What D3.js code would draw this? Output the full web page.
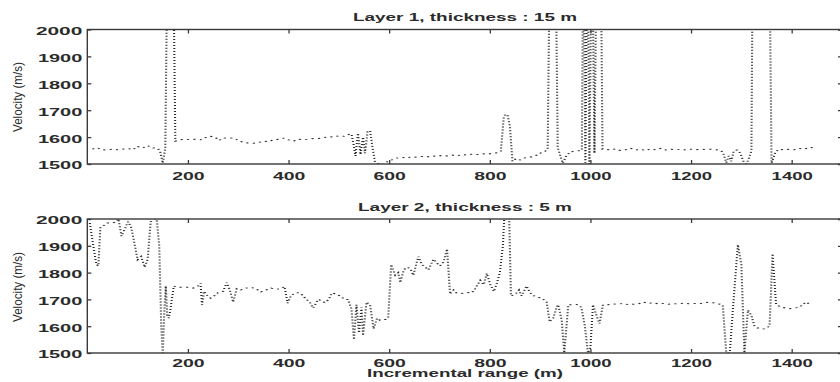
<!DOCTYPE html>
<html>
<head>
<meta charset="utf-8">
<script src="https://cdn.jsdelivr.net/npm/d3@7"></script>
<style>
  html, body { margin: 0; padding: 0; background: #ffffff; }
  svg { display: block; }
</style>
</head>
<body>
<svg id="chart" width="840" height="382"></svg>
<script>
// ---------------- data ----------------
const layer1X = [10,20,30,40,50,60,70,80,90,100,110,120,130,140,145,150,155,160,170,175,185,195,205,215,225,235,245,255,262,270,280,290,300,310,320,330,340,350,360,370,380,390,400,410,420,430,440,450,460,470,480,490,500,510,520,525,530,533,538,543,548,552,557,562,567,572,580,590,597,605,615,625,635,645,655,665,675,685,695,705,715,725,735,745,755,765,775,785,795,805,815,822,828,835,840,845,852,860,870,880,890,900,910,915,920,930,935,945,952,960,970,980,983,986,990,994,998,1003,1008,1013,1020,1024,1030,1040,1050,1060,1070,1080,1090,1100,1110,1120,1130,1140,1150,1160,1170,1180,1190,1200,1210,1220,1230,1240,1250,1260,1265,1270,1275,1280,1285,1292,1298,1305,1310,1315,1320,1323,1355,1360,1368,1375,1385,1395,1405,1415,1425,1435,1443];
const layer1V = [1555,1560,1553,1552,1555,1553,1555,1558,1553,1565,1560,1568,1560,1558,1545,1503,1560,2400,2400,1585,1590,1592,1590,1592,1590,1598,1603,1598,1588,1596,1597,1596,1588,1580,1578,1577,1580,1585,1583,1590,1592,1596,1590,1585,1592,1590,1592,1595,1595,1598,1602,1600,1605,1603,1610,1612,1565,1530,1615,1535,1600,1540,1620,1625,1560,1505,1500,1498,1510,1515,1522,1525,1522,1527,1525,1528,1526,1530,1528,1532,1530,1533,1530,1535,1533,1537,1535,1538,1536,1540,1542,1548,1680,1685,1640,1510,1520,1515,1523,1525,1530,1540,1548,1555,2400,2400,1560,1503,1530,1545,1548,1550,1550,2400,1505,2400,1500,2400,1540,2400,2400,1555,1555,1552,1556,1550,1553,1558,1552,1555,1550,1556,1553,1558,1552,1555,1553,1555,1552,1555,1553,1555,1554,1555,1553,1550,1535,1505,1530,1510,1550,1552,1540,1505,1500,1520,1550,2400,2400,1503,1545,1555,1552,1555,1553,1558,1555,1562,1560];

const layer2X = [5,12,18,22,26,32,40,50,58,62,68,75,81,87,93,100,107,114,120,126,133,138,143,147,150,153,156,159,162,165,168,172,180,190,200,210,220,225,228,232,238,245,252,260,270,277,284,290,297,305,315,325,335,345,355,365,375,385,392,398,405,415,423,433,443,449,459,466,472,480,486,495,505,511,518,525,530,535,540,545,548,555,562,569,576,582,592,598,604,612,618,622,629,635,642,648,658,665,672,678,688,695,701,708,715,721,728,734,744,754,764,771,781,788,794,801,808,814,820,826,830,838,842,851,858,863,873,880,890,903,913,919,926,933,936,943,948,956,962,970,975,982,989,995,1000,1005,1012,1018,1025,1035,1045,1055,1065,1075,1085,1095,1105,1115,1125,1135,1145,1155,1165,1175,1185,1195,1205,1215,1225,1237,1250,1263,1270,1277,1283,1293,1300,1306,1313,1320,1326,1336,1346,1356,1362,1369,1382,1395,1405,1415,1428,1438];
const layer2V = [1985,1900,1830,1825,1970,1975,1985,1985,1990,2000,1936,1965,1990,1970,1916,1848,1860,1820,1850,1990,2000,2000,1900,1600,1500,1650,1750,1640,1630,1660,1700,1750,1745,1745,1745,1742,1750,1760,1680,1730,1715,1705,1713,1725,1730,1763,1730,1690,1740,1735,1742,1745,1740,1728,1735,1742,1738,1740,1748,1686,1715,1725,1724,1705,1687,1668,1700,1695,1688,1700,1724,1720,1710,1700,1700,1665,1550,1680,1575,1670,1565,1690,1680,1590,1630,1622,1625,1630,1830,1790,1800,1763,1810,1820,1815,1790,1860,1830,1820,1810,1850,1835,1825,1840,1888,1720,1735,1724,1722,1726,1724,1740,1771,1755,1797,1755,1730,1760,1800,1900,2050,2050,1713,1720,1735,1713,1750,1725,1710,1705,1690,1616,1630,1672,1680,1620,1500,1680,1680,1682,1680,1670,1600,1500,1520,1680,1640,1610,1680,1680,1683,1682,1685,1680,1682,1683,1690,1685,1688,1683,1685,1682,1684,1683,1686,1684,1685,1683,1687,1690,1685,1680,1500,1500,1660,1904,1830,1500,1660,1640,1600,1590,1590,1600,1870,1680,1670,1665,1668,1670,1690,1680];

const xTicks = [200,400,600,800,1000,1200,1400];
const yTicks = [1500,1600,1700,1800,1900,2000];
const xDomain = [0,1500];
const yDomain = [1500,2000];
const titles = ["Layer 1, thickness : 15 m", "Layer 2, thickness : 5 m"];
const yLabel = "Velocity (m/s)";
const xLabel = "Incremental range (m)";

// ---------------- layout ----------------
const svg = d3.select("#chart");
const LEFT = 87.3, RIGHT = 842;
const SX = 2.2;              // horizontal stretch of the scanned original
const FONT = "'Liberation Sans', Arial, sans-serif";
const INK = "#2b2b2b";
const fmt = d3.format("d");

const panels = [
  { top: 29.5, bottom: 164, xs: layer1X, vs: layer1V, title: titles[0], titleX: 353, titleLen: 224, titleY: 21, pad: 8, labelY: 97 },
  { top: 219,  bottom: 353, xs: layer2X, vs: layer2V, title: titles[1], titleX: 358, titleLen: 214, titleY: 211, pad: 6, labelY: 287 }
];

const xScreen = d3.scaleLinear().domain(xDomain).range([LEFT, RIGHT]);
const xLocal  = d3.scaleLinear().domain(xDomain).range([LEFT / SX, RIGHT / SX]);

function stretchText(sel, perChar) {
  sel.attr("font-family", FONT).attr("font-size", 11).attr("font-weight", "bold")
     .attr("fill", INK)
     .attr("lengthAdjust", "spacingAndGlyphs")
     .attr("textLength", function() { const t = d3.select(this).text(); return t.length * perChar - (t.startsWith("1") ? 2 : 0); });
}

const defs = svg.append("defs");

panels.forEach((p, i) => {
  const y = d3.scaleLinear().domain(yDomain).range([p.bottom, p.top]);

  defs.append("clipPath").attr("id", "clip" + i)
    .append("rect").attr("x", LEFT).attr("y", p.top).attr("width", RIGHT - LEFT).attr("height", p.bottom - p.top);

  // data line (dotted, drawn in stretched space)
  const pts = p.xs.map((d, k) => [d, p.vs[k]]);
  const line = d3.line().x(d => xLocal(d[0])).y(d => y(d[1]));
  svg.append("g").attr("clip-path", `url(#clip${i})`)
    .append("g").attr("transform", `scale(${SX},1)`)
    .append("path").datum(pts)
      .attr("d", line)
      .attr("fill", "none")
      .attr("stroke", "#2a2a2a")
      .attr("stroke-width", 0.95)
      .attr("stroke-dasharray", "1,2");

  // axes
  const gB = svg.append("g").attr("transform", `translate(0,${p.bottom})`)
    .call(d3.axisBottom(xScreen).tickValues(xTicks).tickFormat(fmt).tickSizeInner(-4).tickSizeOuter(0).tickPadding(p.pad));
  const gT = svg.append("g").attr("transform", `translate(0,${p.top})`)
    .call(d3.axisTop(xScreen).tickValues(xTicks).tickSizeInner(-4).tickSizeOuter(0).tickFormat(""));
  const gL = svg.append("g").attr("transform", `translate(${LEFT},0)`)
    .call(d3.axisLeft(y).tickValues(yTicks).tickFormat(fmt).tickSizeInner(-4).tickSizeOuter(0).tickPadding(5));
  const gR = svg.append("g").attr("transform", `translate(${RIGHT},0)`)
    .call(d3.axisRight(y).tickValues(yTicks).tickSizeInner(-4).tickSizeOuter(0).tickFormat(""));

  [gB, gT, gL, gR].forEach(g => {
    g.select(".domain").remove();
    g.selectAll(".tick line").attr("stroke", "#3a3a3a").attr("stroke-width", 1.3);
  });
  gB.selectAll("text").call(stretchText, 10.8);
  gL.selectAll("text").call(stretchText, 11.6).attr("dy", "0.45em");

  // frame
  svg.append("rect").attr("x", LEFT).attr("y", p.top).attr("width", RIGHT - LEFT).attr("height", p.bottom - p.top)
    .attr("fill", "none").attr("stroke", "#3a3a3a").attr("stroke-width", 1.4);

  // title
  svg.append("text").attr("x", p.titleX).attr("y", p.titleY)
    .attr("font-family", FONT).attr("font-size", 10).attr("font-weight", "bold").attr("fill", INK)
    .attr("textLength", p.titleLen).attr("lengthAdjust", "spacingAndGlyphs")
    .text(p.title);

  // y label
  svg.append("text").attr("transform", `translate(22,${p.labelY}) rotate(-90)`)
    .attr("text-anchor", "middle")
    .attr("font-family", FONT).attr("font-size", 13).attr("fill", INK)
    .attr("textLength", 70).attr("lengthAdjust", "spacingAndGlyphs")
    .text(yLabel);
});

// x label
svg.append("text").attr("x", 367).attr("y", 377)
  .attr("font-family", FONT).attr("font-size", 10).attr("font-weight", "bold").attr("fill", INK)
  .attr("textLength", 196).attr("lengthAdjust", "spacingAndGlyphs")
  .text(xLabel);
</script>
</body>
</html>
